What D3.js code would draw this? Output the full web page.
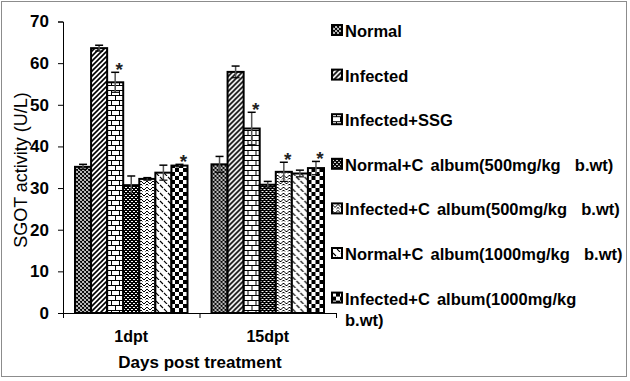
<!DOCTYPE html>
<html><head><meta charset="utf-8">
<script src="https://cdn.jsdelivr.net/npm/d3@7"></script>
<style>html,body{margin:0;padding:0;background:#fff}svg{display:block}text{font-family:"Liberation Sans",Arial,sans-serif}</style>
</head><body><svg id="c" width="630" height="381"></svg>
<script>
const categories = ["1dpt", "15dpt"];
const seriesNames = ["Normal", "Infected", "Infected+SSG", "Normal+C album(500mg/kg  b.wt)", "Infected+C album(500mg/kg  b.wt)", "Normal+C album(1000mg/kg  b.wt)", "Infected+C album(1000mg/kg"];
const legendExtra = "b.wt)";
const values1dpt = [35.1, 63.6, 55.4, 30.7, 32.2, 33.7, 35.4];
const values15dpt = [35.7, 57.9, 44.3, 30.8, 33.9, 33.5, 34.8];
const errors1dpt = [0.6, 0.7, 2.4, 2.2, 0.3, 1.8, 0.3];
const errors15dpt = [1.9, 1.4, 3.9, 0.8, 2.3, 0.8, 1.6];
const signif1dpt = [false, false, true, false, false, false, true];
const signif15dpt = [false, false, true, false, true, false, true];
const yTicks = [0, 10, 20, 30, 40, 50, 60, 70];
const yTitle = "SGOT activity (U/L)";
const xTitle = "Days post treatment";

const svg = d3.select("#c");
const F = '"Liberation Sans",Arial,sans-serif';
svg.append("rect").attr("x",1.5).attr("y",1.5).attr("width",625).attr("height",375).attr("fill","#fff").attr("stroke","#8c8c8c").attr("stroke-width",1);

const defs = svg.append("defs");
function pat(id, w, h, bg, draw){
  const p = defs.append("pattern").attr("id",id).attr("patternUnits","userSpaceOnUse").attr("width",w).attr("height",h);
  p.append("rect").attr("width",w).attr("height",h).attr("fill",bg);
  draw(p);
}
pat("p0",4,4,"#fff",p=>{p.append("path").attr("d","M0,0 L4,4 M4,0 L0,4 M-1,1 L1,-1 M3,5 L5,3 M-1,3 L1,5 M3,-1 L5,1").attr("stroke","#000").attr("stroke-width",1.1);});
pat("p1",5,5,"#fff",p=>{p.append("path").attr("d","M-1,6 L6,-1 M-3,3 L3,-3 M2,8 L8,2").attr("stroke","#000").attr("stroke-width",1.6);});
pat("p2",8,10,"#fff",p=>{p.append("path").attr("d","M0,0.5 H8 M0,5.5 H8 M0.5,0 V5 M4.5,5 V10").attr("stroke","#000").attr("stroke-width",1);});
pat("p3",4,4,"#000",p=>{p.append("rect").attr("x",0).attr("y",1).attr("width",2).attr("height",1).attr("fill","#fff");p.append("rect").attr("x",2).attr("y",3).attr("width",2).attr("height",1).attr("fill","#fff");});
pat("p4",6,6,"#fff",p=>{p.append("path").attr("d","M0,1 L3,4 L6,1 M0,4 L1.5,5.5 M6,4 L4.5,5.5").attr("stroke","#000").attr("stroke-width",1).attr("fill","none");});
pat("p5",8,8,"#fff",p=>{p.append("path").attr("d","M1,1 L4,4 M5,5 L8,8 M-3,5 L0,8").attr("stroke","#000").attr("stroke-width",1.1);});
pat("p6",8,8,"#fff",p=>{p.append("rect").attr("width",4).attr("height",4).attr("fill","#000");p.append("rect").attr("x",4).attr("y",4).attr("width",4).attr("height",4).attr("fill","#000");});

const plotLeft = 63, plotRight = 336, plotTop = 21.5, plotBottom = 313;
const y = d3.scaleLinear().domain([0,70]).range([plotBottom, plotTop]);
const x0 = d3.scaleBand().domain(categories).range([plotLeft, plotRight]).padding(0);
const x1 = d3.scaleBand().domain(d3.range(seriesNames.length)).range([12, x0.bandwidth()-12]).padding(0);

const data = categories.map((c,i)=>({cat:c, vals: i===0?values1dpt:values15dpt, errs: i===0?errors1dpt:errors15dpt, sig: i===0?signif1dpt:signif15dpt}));

const yAxis = d3.axisLeft(y).tickValues(yTicks).tickSize(5).tickPadding(9);
const gy = svg.append("g").attr("transform",`translate(${plotLeft},0)`).call(yAxis);
gy.select(".domain").attr("stroke","#000").attr("stroke-width",1);
gy.selectAll(".tick line").attr("stroke","#000");
gy.selectAll("text").attr("font-family",F).attr("font-size",17).attr("font-weight","bold").attr("fill","#000");

const xAxis = d3.axisBottom(x0).tickSize(0).tickSizeOuter(0).tickPadding(18);
const gx = svg.append("g").attr("transform",`translate(0,${plotBottom})`).call(xAxis);
gx.select(".domain").attr("stroke","#000");
gx.selectAll("text").attr("font-family",F).attr("font-size",16).attr("font-weight","bold").attr("fill","#000");
const seps = [x0.range()[0], ...categories.map(c=>x0(c)+x0.bandwidth())];
gx.selectAll(".sep").data(seps).join("line").attr("class","sep").attr("x1",d=>d+0.5).attr("x2",d=>d+0.5).attr("y1",0).attr("y2",5).attr("stroke","#000");

const groups = svg.selectAll(".grp").data(data).join("g").attr("class","grp").attr("transform",d=>`translate(${x0(d.cat)},0)`);
groups.selectAll("rect.bar").data(d=>d.vals.map((v,i)=>({v,i,e:d.errs[i],s:d.sig[i]}))).join("rect").attr("class","bar")
  .attr("x",d=>x1(d.i)).attr("y",d=>y(d.v)).attr("width",x1.bandwidth()).attr("height",d=>y(0)-y(d.v))
  .attr("fill",d=>`url(#p${d.i})`).attr("stroke","#000").attr("stroke-width",2);
const eb = groups.selectAll("g.eb").data(d=>d.vals.map((v,i)=>({v,i,e:d.errs[i],s:d.sig[i]}))).join("g").attr("class","eb");
eb.append("line").attr("x1",d=>x1(d.i)+x1.bandwidth()/2).attr("x2",d=>x1(d.i)+x1.bandwidth()/2)
  .attr("y1",d=>y(d.v+d.e)).attr("y2",d=>y(d.v-d.e)).attr("stroke","#555").attr("stroke-width",1.5);
eb.append("line").attr("x1",d=>x1(d.i)+x1.bandwidth()/2-4).attr("x2",d=>x1(d.i)+x1.bandwidth()/2+4)
  .attr("y1",d=>y(d.v+d.e)).attr("y2",d=>y(d.v+d.e)).attr("stroke","#000").attr("stroke-width",1.5);
eb.append("line").attr("x1",d=>x1(d.i)+x1.bandwidth()/2-4).attr("x2",d=>x1(d.i)+x1.bandwidth()/2+4)
  .attr("y1",d=>y(d.v-d.e)).attr("y2",d=>y(d.v-d.e)).attr("stroke","#000").attr("stroke-width",1.2);
eb.filter(d=>d.s).append("text").attr("x",d=>x1(d.i)+x1.bandwidth()/2+4).attr("y",d=>y(d.v+d.e)+4)
  .attr("text-anchor","middle").attr("font-family",F).attr("font-size",19).attr("font-weight","bold").attr("fill","#222").text("*");

svg.append("text").attr("transform","translate(21,170) rotate(-90)").attr("text-anchor","middle").attr("dominant-baseline","central")
  .attr("font-family",F).attr("font-size",18).attr("fill","#000").text(yTitle);
svg.append("text").attr("x",200).attr("y",368).attr("text-anchor","middle").attr("font-family",F).attr("font-size",17).attr("font-weight","bold").attr("fill","#000").text(xTitle);

const leg = svg.append("g");
const lg = leg.selectAll("g").data(seriesNames).join("g").attr("transform",(d,i)=>`translate(332,${37+i*44.6})`);
lg.append("rect").attr("x",0).attr("y",-12).attr("width",10).attr("height",10).attr("fill",(d,i)=>`url(#p${i})`).attr("stroke","#000").attr("stroke-width",2);
lg.append("text").attr("x",13).attr("y",0).attr("font-family",F).attr("font-size",16.5).attr("font-weight","bold").attr("fill","#000").attr("word-spacing",2.5).style("white-space","pre").text(d=>d);
leg.append("text").attr("x",345).attr("y",37+6*44.6+21.5).attr("font-family",F).attr("font-size",16.5).attr("font-weight","bold").attr("fill","#000").text(legendExtra);
</script></body></html>
